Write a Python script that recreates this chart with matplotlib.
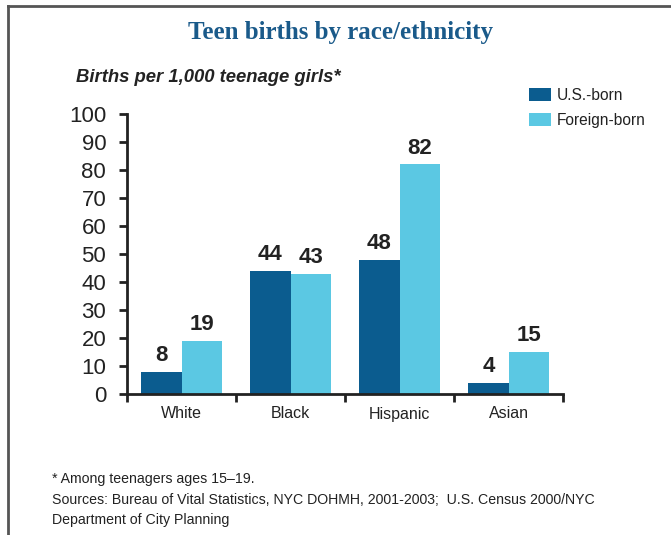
import matplotlib.pyplot as plt
import numpy as np

# categories and values (births per 1,000 teenage girls)
groups = ['White', 'Black', 'Hispanic', 'Asian']
us_born = [8, 44, 48, 4]
foreign_born = [19, 43, 82, 15]
yticks = list(range(0, 101, 10))

c_us = '#0b5c8f'
c_fb = '#5bc8e3'
dark = '#222222'

plt.rcParams['font.family'] = ['Liberation Sans', 'DejaVu Sans']

fig = plt.figure(figsize=(6.71, 5.35), dpi=100)

# outer frame lines (top and left)
fig.add_artist(plt.Line2D([7.5/671, 1], [1 - 5.5/535, 1 - 5.5/535], color='#555555', lw=2))
fig.add_artist(plt.Line2D([7.5/671, 7.5/671], [0, 1 - 5.5/535], color='#555555', lw=2))

ax = fig.add_axes([127/671, (535-394)/535, (563-127)/671, (394-114)/535])

x = np.arange(len(groups))
w = 0.367
b1 = ax.bar(x - w/2, us_born, w, color=c_us, label='U.S.-born')
b2 = ax.bar(x + w/2, foreign_born, w, color=c_fb, label='Foreign-born')

for bars, vals in ((b1, us_born), (b2, foreign_born)):
    for r, v in zip(bars, vals):
        ax.annotate(str(v), (r.get_x() + r.get_width()/2, v), xytext=(0, 4),
                    textcoords='offset points', ha='center', va='bottom',
                    fontsize=16, fontweight='bold', color=dark)

ax.set_xlim(-0.5, len(groups) - 0.5)
ax.set_ylim(0, 100)
ax.set_yticks(yticks)
ax.set_yticklabels([str(t) for t in yticks], fontsize=16, color=dark)
ax.set_xticks(x)
ax.set_xticklabels(groups, fontsize=11.5, color=dark)
ax.set_xticks(np.arange(-0.5, len(groups), 1), minor=True)
ax.tick_params(axis='x', which='major', length=0, pad=9)
ax.tick_params(axis='x', which='minor', length=6, width=2, color=dark, direction='out')
ax.tick_params(axis='y', length=6, width=2, color=dark, pad=9)

for s in ('top', 'right'):
    ax.spines[s].set_visible(False)
for s in ('left', 'bottom'):
    ax.spines[s].set_linewidth(2)
    ax.spines[s].set_color(dark)

fig.text(0.507, 1 - 32/535, 'Teen births by race/ethnicity', ha='center', va='center',
         family='Liberation Serif', fontsize=18, fontweight='bold', color='#1a5a8a')
fig.text(76/671, 1 - 78/535, 'Births per 1,000 teenage girls*', ha='left', va='center',
         fontsize=13.3, fontweight='bold', style='italic', color=dark)

fig.legend(handles=[b1, b2], loc='upper left', bbox_to_anchor=(515/671, 1 - 74/535),
           frameon=False, fontsize=11.2, handlelength=1.4, handleheight=0.9,
           handletextpad=0.4, labelspacing=0.65, labelcolor=dark)

foot = ['* Among teenagers ages 15\u201319.',
        'Sources: Bureau of Vital Statistics, NYC DOHMH, 2001-2003;  U.S. Census 2000/NYC',
        'Department of City Planning']
for i, line in enumerate(foot):
    fig.text(52/671, 1 - (479 + 20.5*i)/535, line, ha='left', va='center',
             fontsize=10.2, color=dark)

fig.savefig('out.png', dpi=100)
